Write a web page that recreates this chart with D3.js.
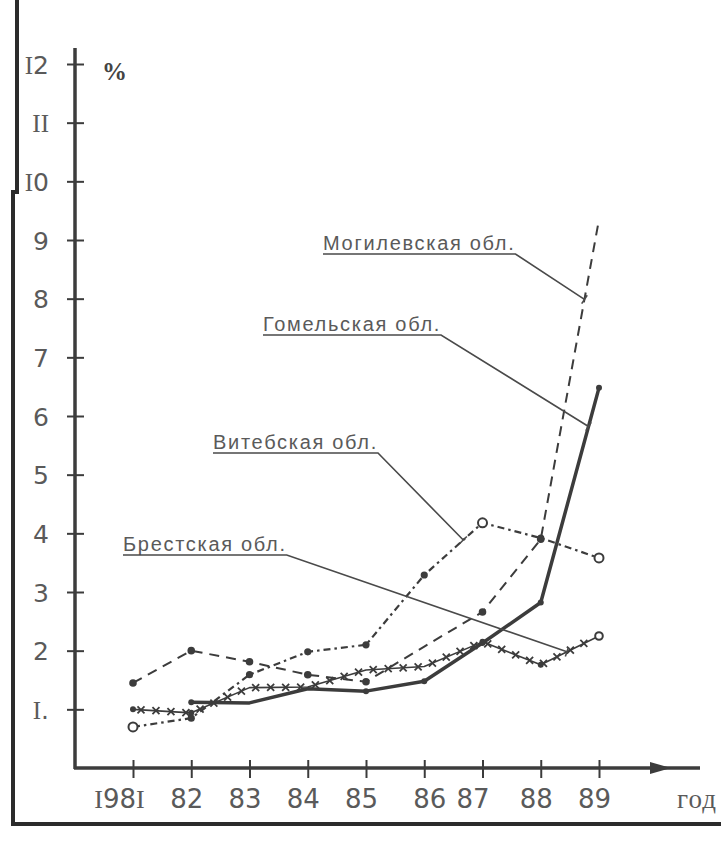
<!DOCTYPE html>
<html>
<head>
<meta charset="utf-8">
<script src="https://cdn.jsdelivr.net/npm/d3@7"></script>
<style>
  body { margin: 0; background: #fff; }
  svg { display: block; }
</style>
</head>
<body>
<script>
// years on the x axis and the way the source typed them (I stands for 1)
const years = [1981, 1982, 1983, 1984, 1985, 1986, 1987, 1988, 1989];
const yearLabels = ["I98I", "82", "83", "84", "85", "86", "87", "88", "89"];
const pctTicks = [1, 2, 3, 4, 5, 6, 7, 8, 9, 10, 11, 12];
const pctLabels = ["I.", "2", "3", "4", "5", "6", "7", "8", "9", "I0", "II", "I2"];

const regionNames = ["Могилевская обл.", "Гомельская обл.", "Витебская обл.", "Брестская обл."];
// percent
const mogilev = [1.45, 2.0, 1.81, 1.59, 1.47, 2.07, 2.66, 3.9, 9.35];
const gomel   = [null, 1.12, 1.11, 1.35, 1.31, 1.48, 2.13, 2.82, 6.48];
const vitebsk = [0.7, 0.85, 1.59, 1.98, 2.1, 3.29, 4.18, 3.92, 3.58];
const brest   = [1.0, 0.94, 1.37, 1.38, 1.67, 1.73, 2.15, 1.76, 2.25];

const w = 721, h = 852;
const ink = "#3c3c3c", textInk = "#5a5a5a";

const svg = d3.select("body").append("svg")
    .attr("width", w)
    .attr("height", h);

const x = d3.scaleLinear().domain([1981, 1989]).range([133, 599]);
const y = d3.scaleLinear().domain([0, 12]).range([768, 64]);
const x0 = 75, yBase = 768;

// page frame from the scan
svg.append("path")
    .attr("d", "M17,0 L17,194 M13,190 L13,824 L721,824")
    .attr("fill", "none")
    .attr("stroke", "#2b2b2b")
    .attr("stroke-width", 4);

// I printed with a serif face, digits with a plain one
function typed(sel, s, digitFont) {
    sel.text(null);
    s.split(/(I)/).filter(p => p).forEach(p => {
        sel.append("tspan")
            .attr("font-family", p === "I" ? "'Liberation Serif', serif" : digitFont)
            .text(p);
    });
}

// y axis
let gy = svg.append("g")
    .attr("transform", "translate(" + x0 + ",0)")
    .call(d3.axisLeft(y).tickValues(pctTicks).tickSize(0).tickFormat((d, i) => pctLabels[i]));
gy.select(".domain").remove();
gy.selectAll(".tick line")
    .attr("x1", -8).attr("x2", 9)
    .attr("stroke", ink).attr("stroke-width", 2);
gy.selectAll(".tick text")
    .attr("x", -26)
    .attr("dy", "0.36em")
    .attr("font-size", 25)
    .attr("fill", textInk)
    .each(function(d, i) { typed(d3.select(this), pctLabels[i], "'DejaVu Sans', sans-serif"); });

svg.append("line")
    .attr("x1", x0).attr("x2", x0)
    .attr("y1", 48).attr("y2", yBase + 1)
    .attr("stroke", ink).attr("stroke-width", 3.5);

svg.append("text")
    .attr("x", 102).attr("y", 80)
    .attr("font-family", "'Liberation Serif', serif")
    .attr("font-weight", "bold")
    .attr("font-size", 25)
    .attr("fill", "#444")
    .text("%");

// x axis with arrow
const labelShift = {"I98I": -14, "86": 5, "87": -10};
let gx = svg.append("g")
    .attr("transform", "translate(0," + yBase + ")")
    .call(d3.axisBottom(x).tickValues(years).tickSize(0).tickFormat((d, i) => yearLabels[i]));
gx.select(".domain").remove();
gx.selectAll(".tick line")
    .attr("y1", -8).attr("y2", 10)
    .attr("stroke", ink).attr("stroke-width", 2);
gx.selectAll(".tick text")
    .attr("y", 40).attr("dy", 0)
    .attr("dx", (d, i) => (labelShift[yearLabels[i]] || -5))
    .attr("font-size", 26)
    .attr("fill", textInk)
    .each(function(d, i) { typed(d3.select(this), yearLabels[i], "'DejaVu Sans', sans-serif"); });

svg.append("line")
    .attr("x1", x0 - 1).attr("x2", 700)
    .attr("y1", yBase).attr("y2", yBase)
    .attr("stroke", ink).attr("stroke-width", 3.5);
svg.append("path")
    .attr("d", "M650," + (yBase - 6) + " L671," + yBase + " L650," + (yBase + 6) + "Z")
    .attr("fill", ink);

svg.append("text")
    .attr("x", 697).attr("y", 808)
    .attr("text-anchor", "middle")
    .attr("font-family", "'Liberation Serif', serif")
    .attr("font-size", 27)
    .attr("letter-spacing", 1)
    .attr("fill", textInk)
    .text("год");

// series
function pts(vals) {
    return years.map((yr, i) => ({yr: yr, v: vals[i]})).filter(d => d.v != null);
}
const line = d3.line().x(d => x(d.yr)).y(d => y(d.v));

const series = [
    {name: regionNames[0], vals: mogilev, width: 2, dash: "10,7"},
    {name: regionNames[1], vals: gomel, width: 3.5, dash: null},
    {name: regionNames[2], vals: vitebsk, width: 2.2, dash: "7,4,2.5,4"},
    {name: regionNames[3], vals: brest, width: 1.6, dash: null}
];

series.forEach(s => {
    s.path = svg.append("path")
        .datum(pts(s.vals))
        .attr("d", line)
        .attr("fill", "none")
        .attr("stroke", ink)
        .attr("stroke-width", s.width)
        .attr("stroke-dasharray", s.dash)
        .attr("stroke-linejoin", "round");
});

// crosses strung along the Брестская line
let bp = series[3].path.node();
let bl = bp.getTotalLength();
for (let l = 8; l < bl - 6; l += 15) {
    let p = bp.getPointAtLength(l);
    svg.append("path")
        .attr("d", "M" + (p.x - 3.5) + "," + (p.y - 3.5) + "l7,7 M" + (p.x - 3.5) + "," + (p.y + 3.5) + "l7,-7")
        .attr("stroke", ink)
        .attr("stroke-width", 1.8);
}

// point markers
function dots(vals, r, skip) {
    svg.selectAll(null)
        .data(pts(vals).filter(d => !skip.includes(d.yr)))
        .enter()
        .append("circle")
        .attr("cx", d => x(d.yr))
        .attr("cy", d => y(d.v))
        .attr("r", r)
        .attr("fill", ink);
}
function rings(vals, r, only) {
    svg.selectAll(null)
        .data(pts(vals).filter(d => only.includes(d.yr)))
        .enter()
        .append("circle")
        .attr("cx", d => x(d.yr))
        .attr("cy", d => y(d.v))
        .attr("r", r)
        .attr("fill", "#fff")
        .attr("stroke", ink)
        .attr("stroke-width", 2);
}
dots(mogilev, 3.8, [1986, 1989]);
dots(gomel, 3, [1983, 1984]);
dots(vitebsk, 3.6, [1981, 1987, 1989]);
rings(vitebsk, 4.5, [1981, 1987, 1989]);
dots(brest, 3, [1983, 1984, 1985, 1986, 1989]);
rings(brest, 3.8, [1989]);

// labels with underline and leader to the line
const labelPos = [[323, 250, 1988.75], [263, 331, 1988.82], [213, 449, 1986.67], [123, 551, 1988.45]];
series.forEach((s, i) => {
    let lp = labelPos[i];
    let t = svg.append("text")
        .attr("x", lp[0]).attr("y", lp[1])
        .attr("font-family", "'Liberation Sans', Arial, sans-serif")
        .attr("font-size", 20)
        .attr("letter-spacing", 1.7)
        .attr("fill", textInk)
        .text(s.name);
    let tw = t.node().getComputedTextLength();
    let ux = lp[0] + tw, uy = lp[1] + 4;
    // target point on the series at a fractional year
    let k = Math.floor(lp[2]) - 1981;
    let f = lp[2] - Math.floor(lp[2]);
    let tx = x(lp[2]);
    let ty = y(s.vals[k] + (s.vals[k + 1] - s.vals[k]) * f);
    svg.append("path")
        .attr("d", "M" + lp[0] + "," + uy + " L" + ux + "," + uy + " L" + tx + "," + ty)
        .attr("fill", "none")
        .attr("stroke", "#4a4a4a")
        .attr("stroke-width", 1.6);
    let a = Math.atan2(ty - uy, tx - ux) + Math.PI / 2;
    svg.append("line")
        .attr("x1", tx - 5 * Math.cos(a)).attr("y1", ty - 5 * Math.sin(a))
        .attr("x2", tx + 5 * Math.cos(a)).attr("y2", ty + 5 * Math.sin(a))
        .attr("stroke", "#4a4a4a")
        .attr("stroke-width", 1.6);
});
</script>
</body>
</html>
